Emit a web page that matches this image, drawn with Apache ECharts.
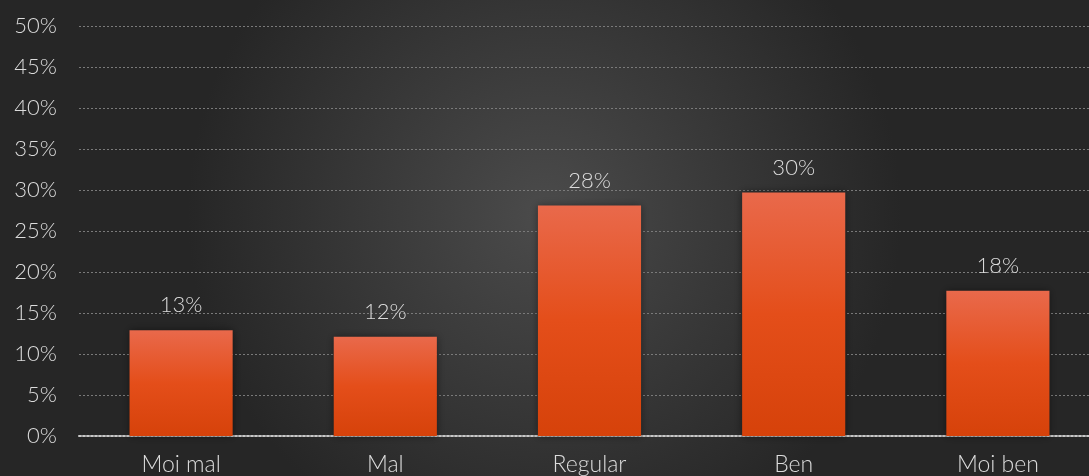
<!DOCTYPE html>
<html><head><meta charset="utf-8">
<script src="https://cdn.jsdelivr.net/npm/echarts@6/dist/echarts.min.js"></script>
<style>html,body{margin:0;padding:0;background:#333;}#c{width:1089px;height:476px;}</style>
</head><body><div id="c"></div>
<script>
const categories = ['Moi mal', 'Mal', 'Regular', 'Ben', 'Moi ben'];
const values = [12.9, 12.1, 28.1, 29.7, 17.7];
const yTicks = [0, 5, 10, 15, 20, 25, 30, 35, 40, 45, 50];

const chart = echarts.init(document.getElementById('c'));
const font = 'Lato, "Liberation Sans", sans-serif';
chart.setOption({
  backgroundColor: {
    type: 'radial', x: 0.5, y: 0.45, r: 0.75,
    colorStops: [{offset: 0, color: '#4b4b4b'}, {offset: 1, color: '#262626'}]
  },
  animation: false,
  grid: {left: 79, width: 1021, top: 26, bottom: 40, containLabel: false, outerBoundsMode: 'none'},
  xAxis: {
    type: 'category', data: categories,
    axisTick: {show: false},
    axisLine: {lineStyle: {color: '#c8c8c8', width: 2, type: [2, 2]}},
    axisLabel: {color: '#dcdcdc', fontSize: 23, fontWeight: 300, fontFamily: font, margin: 17}
  },
  yAxis: {
    type: 'value', min: yTicks[0], max: yTicks[yTicks.length - 1], interval: 5,
    axisLine: {show: false}, axisTick: {show: false},
    axisLabel: {color: '#dcdcdc', fontSize: 22, fontWeight: 300, fontFamily: font, margin: 22,
      formatter: v => v + '%'},
    splitLine: {lineStyle: {color: '#7a7a7a', width: 1, type: [2, 2]}}
  },
  series: [{
    type: 'bar', data: values, barWidth: '50.5%',
    itemStyle: {
      color: {type: 'linear', x: 0, y: 0, x2: 0, y2: 1,
        colorStops: [{offset: 0, color: '#e9694b'}, {offset: 0.5, color: '#e44e1a'}, {offset: 1, color: '#d6420a'}]},
      shadowColor: 'rgba(0,0,0,0.45)', shadowBlur: 8
    },
    label: {show: true, position: 'top', distance: 14, color: '#dcdcdc', fontSize: 22, fontWeight: 300, fontFamily: font,
      formatter: p => Math.round(p.value) + '%'}
  }]
});
</script></body></html>
